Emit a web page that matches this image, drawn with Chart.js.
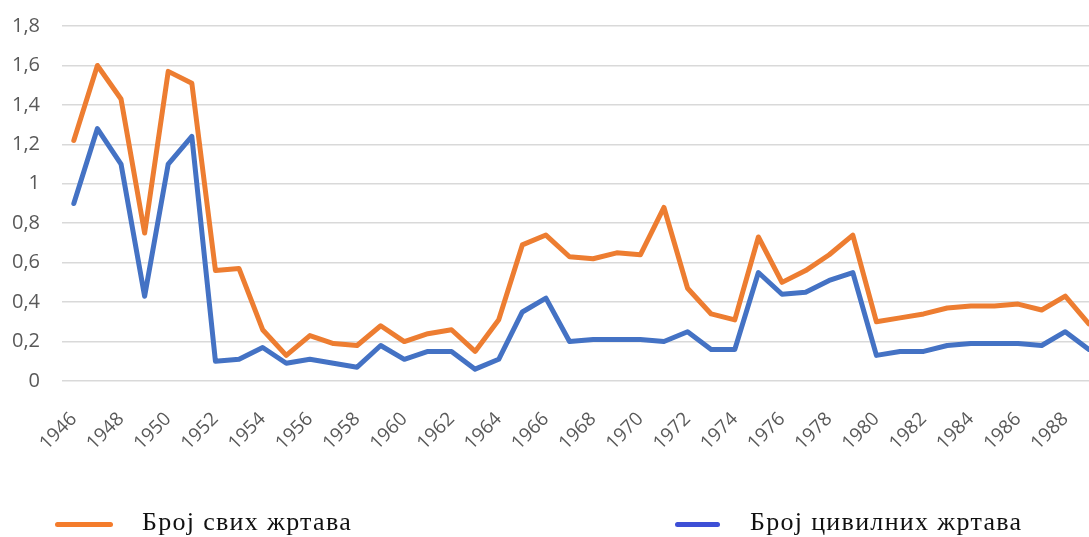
<!DOCTYPE html>
<html>
<head>
<meta charset="utf-8">
<script src="https://cdn.jsdelivr.net/npm/chart.js@4"></script>
<style>
  html, body { margin: 0; padding: 0; background: #fff; overflow: hidden; }
  #wrap { position: relative; width: 1089px; height: 537px; overflow: hidden; }
  #victimsChart { position: absolute; left: 0; top: -8px; }
  .leg { position: absolute; top: 506px; font-family: "Liberation Serif", serif; font-size: 26px; letter-spacing: 1.3px; color: #111; white-space: nowrap; line-height: 32px; }
  .leg i { display: inline-block; height: 5px; border-radius: 3px; vertical-align: middle; }
</style>
</head>
<body>
<div id="wrap">
  <canvas id="victimsChart" width="1124" height="545"></canvas>
  <div class="leg" id="leg1" style="left:55px"><i style="width:58px;background:#f47c2c;margin-right:29px"></i><span></span></div>
  <div class="leg" id="leg2" style="left:675px"><i style="width:45px;background:#3d4fd6;margin-right:30px"></i><span></span></div>
</div>
<script>
// Data
const years = ['1946','1947','1948','1949','1950','1951','1952','1953','1954','1955',
  '1956','1957','1958','1959','1960','1961','1962','1963','1964','1965',
  '1966','1967','1968','1969','1970','1971','1972','1973','1974','1975',
  '1976','1977','1978','1979','1980','1981','1982','1983','1984','1985',
  '1986','1987','1988','1989'];

const allVictims = [1.22, 1.60, 1.43, 0.75, 1.57, 1.51, 0.56, 0.57, 0.26, 0.13,
  0.23, 0.19, 0.18, 0.28, 0.20, 0.24, 0.26, 0.15, 0.31, 0.69,
  0.74, 0.63, 0.62, 0.65, 0.64, 0.88, 0.47, 0.34, 0.31, 0.73,
  0.50, 0.56, 0.64, 0.74, 0.30, 0.32, 0.34, 0.37, 0.38, 0.38,
  0.39, 0.36, 0.43, 0.29];

const civilianVictims = [0.90, 1.28, 1.10, 0.43, 1.10, 1.24, 0.10, 0.11, 0.17, 0.09,
  0.11, 0.09, 0.07, 0.18, 0.11, 0.15, 0.15, 0.06, 0.11, 0.35,
  0.42, 0.20, 0.21, 0.21, 0.21, 0.20, 0.25, 0.16, 0.16, 0.55,
  0.44, 0.45, 0.51, 0.55, 0.13, 0.15, 0.15, 0.18, 0.19, 0.19,
  0.19, 0.18, 0.25, 0.16];

const seriesNames = ['Број свих жртава', 'Број цивилних жртава'];
const yMax = 1.8;
const yStep = 0.2;

document.querySelector('#leg1 span').textContent = seriesNames[0];
document.querySelector('#leg2 span').textContent = seriesNames[1];

const tickFont = { family: '"Open Sans", sans-serif', size: 20 };

const ctx = document.getElementById('victimsChart');
const chart = new Chart(ctx, {
  type: 'line',
  data: {
    labels: years,
    datasets: [{
      label: seriesNames[0],
      data: allVictims,
      borderColor: '#ed7d31',
      backgroundColor: '#ed7d31',
      borderWidth: 5,
      pointRadius: 0,
      borderJoinStyle: 'round',
      borderCapStyle: 'round'
    }, {
      label: seriesNames[1],
      data: civilianVictims,
      borderColor: '#4472c4',
      backgroundColor: '#4472c4',
      borderWidth: 5,
      pointRadius: 0,
      borderJoinStyle: 'round',
      borderCapStyle: 'round'
    }]
  },
  options: {
    responsive: false,
    animation: false,
    layout: { padding: { top: 17, left: 0, right: 0, bottom: 86 } },
    plugins: {
      legend: { display: false },
      tooltip: { enabled: false }
    },
    scales: {
      x: {
        offset: true,
        grid: { display: false },
        border: { display: false },
        afterFit: function(scale) { scale.height = 70; },
        ticks: {
          autoSkip: false,
          minRotation: 45,
          maxRotation: 45,
          padding: 19,
          color: '#595959',
          font: { family: '"Open Sans", sans-serif', size: 19 },
          callback: function(value, index) {
            return index % 2 === 0 ? years[index] : '';
          }
        }
      },
      y: {
        min: 0,
        max: yMax,
        afterFit: function(scale) { scale.width = 62; },
        grid: { color: '#d9d9d9', lineWidth: 1.5, drawTicks: false },
        border: { display: false },
        ticks: {
          stepSize: yStep,
          padding: 22,
          color: '#595959',
          font: tickFont,
          callback: function(value) {
            return String(Number(value.toFixed(1))).replace('.', ',');
          }
        }
      }
    }
  }
});
</script>
</body>
</html>
